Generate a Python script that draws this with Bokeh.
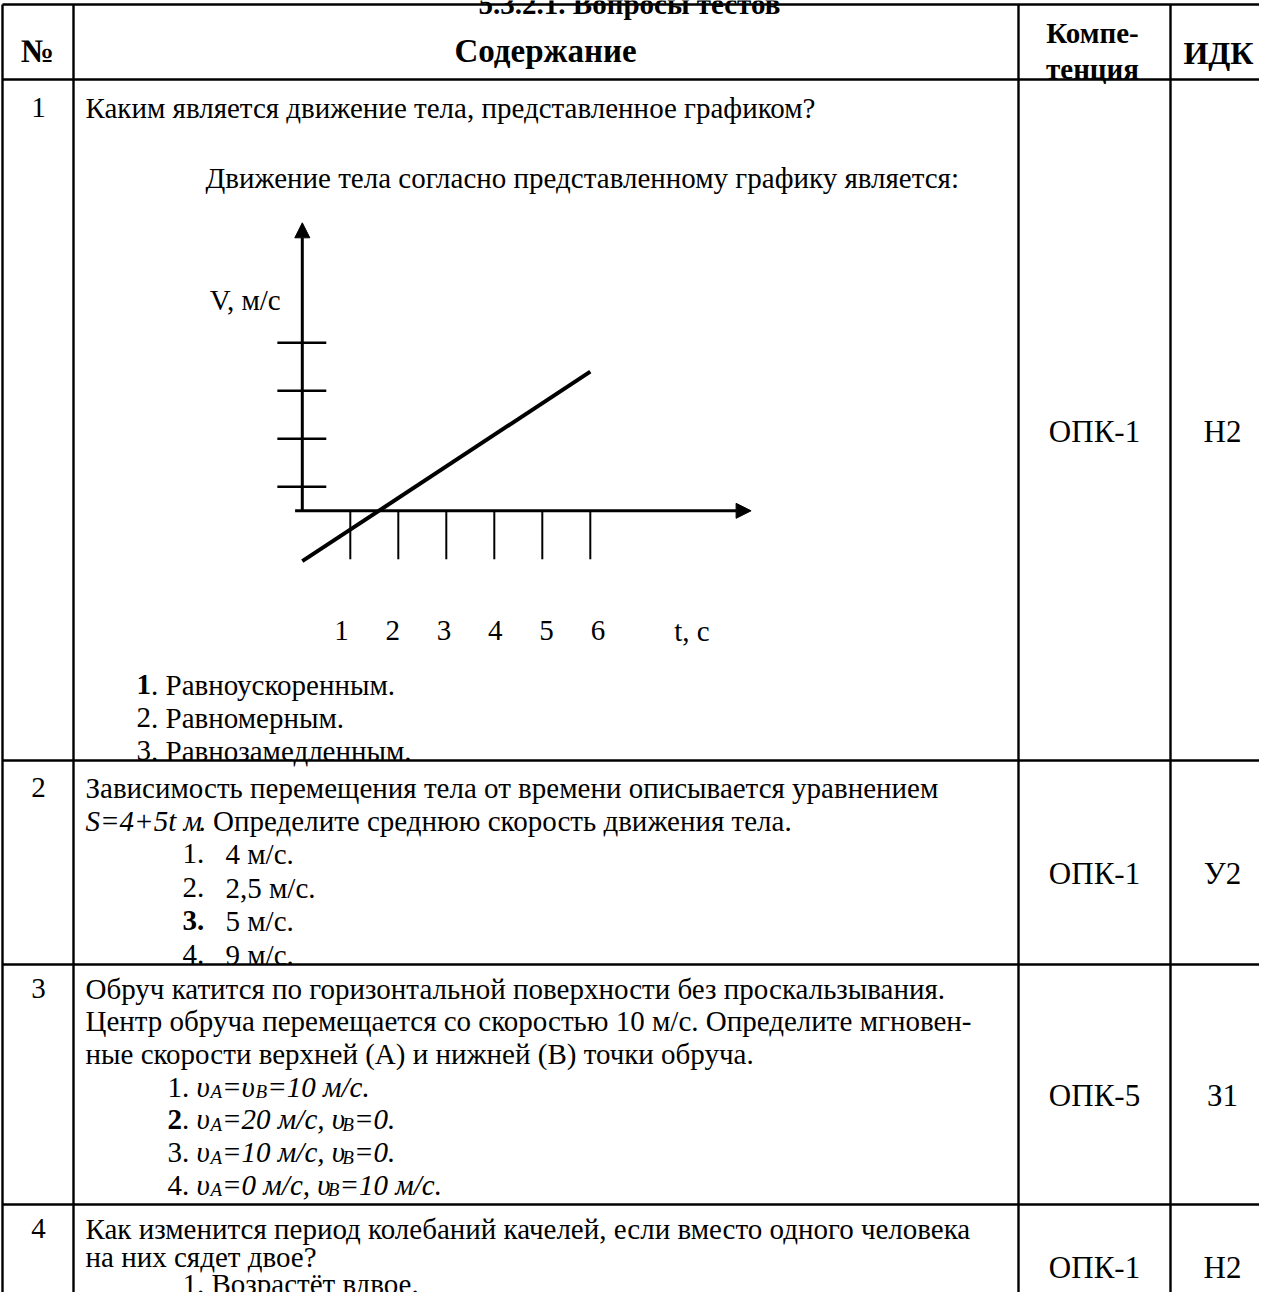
from bokeh.plotting import figure
from bokeh.models import Range1d, Arrow, NormalHead
from bokeh.core.properties import value
from bokeh.embed import file_html
from bokeh.resources import INLINE

# ---------------- data ----------------
title = "5.3.2.1. Вопросы тестов"
header = ["№", "Содержание", ["Компе-", "тенция"], "ИДК"]
row_numbers = ["1", "2", "3", "4"]
competence = ["ОПК-1", "ОПК-1", "ОПК-5", "ОПК-1"]
idk = ["Н2", "У2", "З1", "Н2"]

q1_lines = ["Каким является движение тела, представленное графиком?",
            "Движение тела согласно представленному графику является:"]
q1_options = [("1", ". Равноускоренным."), ("2", ". Равномерным."), ("3", ". Равнозамедленным.")]
q1_bold = [True, False, False]

# embedded velocity graph (t in s, v in arbitrary tick units)
graph_t = [0, 6]
graph_v = [-2.1, 5.8]
t_ticks = [1, 2, 3, 4, 5, 6]
t_tick_labels = ["1", "2", "3", "4", "5", "6"]
v_ticks = [1, 3, 5, 7]
t_axis_end = 9.35
v_axis_end = 12.0
v_label = "V, м/с"
t_label = "t, с"

q2_line1 = "Зависимость перемещения тела от времени описывается уравнением"
q2_line2_it = "S=4+5t м"
q2_line2_rest = ". Определите среднюю скорость движения тела."
q2_options = [("1.", "4 м/с."), ("2.", "2,5 м/с."), ("3.", "5 м/с."), ("4.", "9 м/с.")]
q2_bold = [False, False, True, False]

q3_lines = ["Обруч катится по горизонтальной поверхности без проскальзывания.",
            "Центр обруча перемещается со скоростью 10 м/с. Определите мгновен-",
            "ные скорости верхней (А) и нижней (В) точки обруча."]
q3_options = [
    [("1. ", "normal", False), ("υ", "italic", False), ("A", "italic", True), ("=υ", "italic", False),
     ("B", "italic", True), ("=10 м/с.", "italic", False)],
    [("2", "bold", False), (". ", "normal", False), ("υ", "italic", False), ("A", "italic", True),
     ("=20 м/с, υ", "italic", False), ("B", "italic", True), ("=0.", "italic", False)],
    [("3. ", "normal", False), ("υ", "italic", False), ("A", "italic", True),
     ("=10 м/с, υ", "italic", False), ("B", "italic", True), ("=0.", "italic", False)],
    [("4. ", "normal", False), ("υ", "italic", False), ("A", "italic", True),
     ("=0 м/с, υ", "italic", False), ("B", "italic", True), ("=10 м/с.", "italic", False)],
]

q4_lines = ["Как изменится период колебаний качелей, если вместо одного человека",
            "на них сядет двое?"]
q4_option = "1. Возрастёт вдвое."

# ---------------- layout ----------------
FONT = "Liberation Serif"
BODY = 29
X0, Y0, W, H = 8, 8, 1259, 1292
col_x = [10, 81, 1026, 1178, 1290]
row_y = [12, 87, 768, 972, 1212]
TABLE_BOTTOM = 1320

p = figure(width=W, height=H, output_backend="svg", toolbar_location=None,
           x_range=Range1d(X0, X0 + W), y_range=Range1d(Y0 + H, Y0),
           x_axis_location=None, y_axis_location=None, min_border=0)
p.grid.visible = False
p.outline_line_color = None
p.background_fill_color = "white"
p.border_fill_color = "white"

# graph coordinate system mapped through extra ranges
OX, OY, TU, VU = 309.8, 518.3, 48.0, 24.0
p.extra_x_ranges = {"t": Range1d((X0 - OX) / TU, (X0 + W - OX) / TU)}
p.extra_y_ranges = {"v": Range1d((OY - (Y0 + H)) / VU, (OY - Y0) / VU)}
G = dict(x_range_name="t", y_range_name="v")


def T(x, y, s, size=BODY, style="normal", align="left", **kw):
    p.text(x=[x], y=[y], text=[s], text_font=value(FONT), text_font_size=f"{size}px",
           text_font_style=style, text_align=align, text_baseline="alphabetic",
           text_color="black", **kw)


W_REG = {'1': .5, '2': .5, '3': .5, '4': .5, '.': .25, ' ': .25}
W_BOLD = {'1': .5, '2': .5, '3': .5, '.': .25}
W_IT = {'υ': .48, 'A': .611, 'B': .611, '=': .675, '+': .675, '0': .5, '1': .5, '2': .5,
        '4': .5, '5': .5, 'S': .5, 't': .28, 'м': .52, '/': .278, 'с': .444, ',': .25, '.': .25, ' ': .25}


def width(s, style, size):
    tbl = W_IT if style == "italic" else (W_BOLD if style == "bold" else W_REG)
    return sum(tbl.get(c, .5) for c in s) * size


def runs(x, y, parts):
    for s, style, sub in parts:
        size = 19 if sub else BODY
        T(x, y + (5 if sub else 0), s, size=size, style=style)
        x += width(s, style, size)


# ---------------- table grid ----------------
p.segment(x0=[col_x[0]] * len(row_y), x1=[col_x[-1]] * len(row_y), y0=row_y, y1=row_y,
          line_color="black", line_width=2.4)
p.segment(x0=col_x, x1=col_x, y0=[row_y[0]] * len(col_x), y1=[TABLE_BOTTOM] * len(col_x),
          line_color="black", line_width=2.4)

# title (cut off at the top of the page, as in the original scan)
T(637, 11, title, size=BODY, style="bold", align="center")

# header
T(45, 58, header[0], size=33, style="bold", align="center")
T(553, 58, header[1], size=33, style="bold", align="center")
T(1100, 40, header[2][0], size=BODY, style="bold", align="center")
T(1100, 76, header[2][1], size=BODY, style="bold", align="center")
T(1226, 60, header[3], size=32, style="bold", align="center")

# row numbers & competence columns
num_y = [115, 795, 996, 1236]
row_mid = [(row_y[1] + row_y[2]) / 2, (row_y[2] + row_y[3]) / 2, (row_y[3] + row_y[4]) / 2, 1264]
for i in range(4):
    T(46, num_y[i], row_numbers[i], align="center")
    T(1102, row_mid[i] + 11, competence[i], size=31, align="center")
    T(1230, row_mid[i] + 11, idk[i], size=31, align="center")

LX = 93
# ---- row 1 ----
T(LX, 115, q1_lines[0])
T(213, 185, q1_lines[1])

# graph
p.line(x=graph_t, y=graph_v, line_color="black", line_width=4, **G)
p.segment(x0=t_ticks, x1=t_ticks, y0=[0] * len(t_ticks), y1=[-2.02] * len(t_ticks),
          line_color="black", line_width=2, **G)
p.segment(x0=[-0.52] * len(v_ticks), x1=[0.5] * len(v_ticks), y0=v_ticks, y1=v_ticks,
          line_color="black", line_width=2.6, **G)
p.add_layout(Arrow(end=NormalHead(size=15, fill_color="black", line_color="black"),
                   x_start=-0.15, y_start=0, x_end=t_axis_end, y_end=0,
                   line_color="black", line_width=3, **G))
p.add_layout(Arrow(end=NormalHead(size=15, fill_color="black", line_color="black"),
                   x_start=0, y_start=0, x_end=0, y_end=v_axis_end,
                   line_color="black", line_width=3, **G))
for tt, lab in zip(t_ticks, t_tick_labels):
    T(tt * 1.068 - 0.25, -5.0, lab, align="center", **G)
T(7.75, -5.0, t_label, **G)
T(-0.45, 8.8, v_label, align="right", **G)

q1_y = [692, 725, 758]
for (num, rest), b, y in zip(q1_options, q1_bold, q1_y):
    T(144, y, num, style="bold" if b else "normal")
    T(144 + width(num, "bold" if b else "normal", BODY), y, rest)

# ---- row 2 ----
T(LX, 795, q2_line1)
T(LX, 828, q2_line2_it, style="italic")
T(LX + width(q2_line2_it, "italic", BODY), 828, q2_line2_rest)
q2_y = [861, 895, 928, 962]
for (num, rest), b, y in zip(q2_options, q2_bold, q2_y):
    T(190, y, num, style="bold" if b else "normal")
    T(233, y, rest)

# ---- row 3 ----
for i, ln in enumerate(q3_lines):
    T(LX, 996 + 32.7 * i, ln)
for i, parts in enumerate(q3_options):
    runs(175, 996 + 32.7 * (i + 3), parts)

# ---- row 4 ----
T(LX, 1236, q4_lines[0])
T(LX, 1264, q4_lines[1])
T(190, 1291, q4_option)

open("out.html", "w").write(file_html(p, INLINE))
